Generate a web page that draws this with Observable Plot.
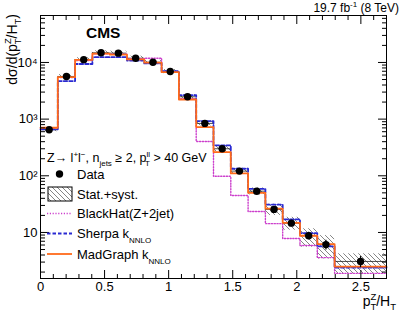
<!DOCTYPE html>
<html><head><meta charset="utf-8">
<script src="https://cdn.jsdelivr.net/npm/d3@7"></script>
<script src="https://cdn.jsdelivr.net/npm/@observablehq/plot@0.6"></script>
<style>
html,body{margin:0;padding:0;background:#fff;}
#chart svg{display:block;font-family:"Liberation Sans",Arial,Helvetica,sans-serif;background:#fff;}
</style></head><body><div id="chart"></div>
<script>
// ---- data ----
const binEdges = [0, 0.135, 0.27, 0.405, 0.54, 0.675, 0.81, 0.945, 1.08, 1.215, 1.35, 1.485, 1.62, 1.755, 1.89, 2.025, 2.16, 2.295, 2.7];
const dataValues = [650, 5660, 11200, 14800, 14600, 11900, 10100, 6930, 2480, 840, 300, 121, 53.5, 25.5, 14.6, 8.75, 6.1, 3.08];
const statRelErr = [0.01, 0.01, 0.01, 0.01, 0.01, 0.01, 0.01, 0.01, 0.015, 0.02, 0.03, 0.05, 0.07, 0.09, 0.12, 0.15, 0.2, 0.22];
const bandLow  = [600, 5200, 10300, 13600, 13400, 10900, 9300, 6350, 2280, 760, 265, 107, 46, 20, 11, 5.5, 3.4, 1.87];
const bandHigh = [700, 6100, 12100, 16000, 15800, 12900, 10900, 7500, 2700, 930, 340, 136, 61, 31.5, 18.5, 11.6, 8.8, 4.2];
const madgraph = [705, 5500, 11100, 14300, 13800, 11300, 9900, 6750, 2220, 725, 262, 110, 50, 26.4, 14.8, 8.75, 6.2, 2.5];
const sherpa   = [660, 4700, 9400, 12400, 12400, 10800, 9600, 7000, 2650, 923, 344, 133, 59, 31, 17, 9.7, 5.7, 2.4];
const blackhat = [700, 5400, 10800, 14200, 14000, 11600, 11900, 6900, 2300, 404, 98, 45, 23.4, 14.3, 7.8, 5.9, 3.6, 1.9];

const xMajorTicks = [0, 0.5, 1, 1.5, 2, 2.5];
const xTickLabels = ["0", "0.5", "1", "1.5", "2", "2.5"];
const xMinorTicks = [0.1, 0.2, 0.3, 0.4, 0.6, 0.7, 0.8, 0.9, 1.1, 1.2, 1.3, 1.4, 1.6, 1.7, 1.8, 1.9, 2.1, 2.2, 2.3, 2.4, 2.6];
const yMajorTicks = [10, 100, 1000, 10000];
const yTickLabels = ["10", "10\u00B2", "10\u00B3", "10\u2074"];
const yMinorTicks = [2, 3, 4, 5, 6, 7, 8, 9, 20, 30, 40, 50, 60, 70, 80, 90, 200, 300, 400, 500, 600, 700, 800, 900,
  2000, 3000, 4000, 5000, 6000, 7000, 8000, 9000, 20000, 30000, 40000, 50000, 60000];

const seriesColors = {madgraph: "#ff6a1a", sherpa: "#2a2ad2", blackhat: "#cc3fcc"};

// ---- tables built from the arrays ----
const rows = dataValues.map((v, i) => ({
  x1: binEdges[i], x2: binEdges[i + 1], xc: (binEdges[i] + binEdges[i + 1]) / 2,
  v, elo: v * (1 - statRelErr[i]), ehi: v * (1 + statRelErr[i]),
  blo: bandLow[i], bhi: bandHigh[i]
}));
const steps = (series) => binEdges.map((e, i) => ({x: e, y: series[Math.min(i, series.length - 1)]}));

const xLab = new Map(xMajorTicks.map((d, i) => [d, xTickLabels[i]]));
const yLab = new Map(yMajorTicks.map((d, i) => [d, yTickLabels[i]]));

const plot = Plot.plot({
  width: 407, height: 322,
  marginLeft: 40, marginRight: 21, marginTop: 15, marginBottom: 44,
  style: {fontFamily: '"Liberation Sans", Arial, Helvetica, sans-serif', fontSize: "13px", color: "black", background: "white"},
  x: {domain: [0, 2.7]},
  y: {type: "log", domain: [1.54, 67400]},
  marks: [
    Plot.rect(rows, {x1: "x1", x2: "x2", y1: "blo", y2: "bhi", fill: "url(#hatchPat)"}),
    Plot.ruleY(rows, {y: "v", x1: "x1", x2: "x2", stroke: "#222", strokeWidth: 0.8}),
    Plot.line(steps(blackhat), {x: "x", y: "y", curve: "step-after", stroke: seriesColors.blackhat, strokeWidth: 1.4, strokeDasharray: "1.2,1.6"}),
    Plot.line(steps(sherpa), {x: "x", y: "y", curve: "step-after", stroke: seriesColors.sherpa, strokeWidth: 1.8, strokeDasharray: "3.5,2"}),
    Plot.line(steps(madgraph), {x: "x", y: "y", curve: "step-after", stroke: seriesColors.madgraph, strokeWidth: 1.8}),
    Plot.ruleX(rows, {x: "xc", y1: "elo", y2: "ehi", stroke: "black", strokeWidth: 1.2}),
    Plot.dot(rows, {x: "xc", y: "v", r: 3.7, fill: "black", stroke: "none"}),
    // inward ticks, ROOT style
    Plot.axisX({anchor: "bottom", ticks: xMajorTicks, tickSize: -8, tickFormat: () => "", label: null}),
    Plot.axisX({anchor: "bottom", ticks: xMinorTicks, tickSize: -4, tickFormat: () => "", label: null}),
    Plot.axisX({anchor: "top", ticks: xMajorTicks, tickSize: -8, tickFormat: () => "", label: null}),
    Plot.axisX({anchor: "top", ticks: xMinorTicks, tickSize: -4, tickFormat: () => "", label: null}),
    Plot.axisX({anchor: "bottom", ticks: xMajorTicks, tickSize: 0, tickPadding: 3, tickFormat: d => xLab.get(d), fontSize: 13, label: null}),
    Plot.axisY({anchor: "left", ticks: yMajorTicks, tickSize: -9, tickFormat: () => "", label: null}),
    Plot.axisY({anchor: "left", ticks: yMinorTicks, tickSize: -5, tickFormat: () => "", label: null}),
    Plot.axisY({anchor: "right", ticks: yMajorTicks, tickSize: -9, tickFormat: () => "", label: null}),
    Plot.axisY({anchor: "right", ticks: yMinorTicks, tickSize: -5, tickFormat: () => "", label: null}),
    Plot.axisY({anchor: "left", ticks: yMajorTicks, tickSize: 0, tickPadding: 3, tickFormat: d => yLab.get(d), fontSize: 13, label: null}),
    Plot.frame({stroke: "black", strokeWidth: 1})
  ]
});
document.getElementById("chart").appendChild(plot);

// ---- decorations: hatch pattern, texts, legend ----
const svg = d3.select(plot);
const defs = svg.insert("defs", ":first-child");
const pat = defs.append("pattern").attr("id", "hatchPat").attr("patternUnits", "userSpaceOnUse")
  .attr("width", 5).attr("height", 5);
pat.append("path").attr("d", "M0,0L5,5M-1,4L1,6M4,-1L6,1").attr("stroke", "#666").attr("stroke-width", 0.8).attr("fill", "none");

const ann = svg.append("g").attr("fill", "black").attr("text-anchor", "start")
  .attr("font-family", '"Liberation Sans", Arial, Helvetica, sans-serif');

// top-right luminosity
const lumi = ann.append("text").attr("x", 399).attr("y", 12).attr("text-anchor", "end").attr("font-size", 12);
lumi.append("tspan").text("19.7 fb");
lumi.append("tspan").attr("font-size", 8).attr("dy", -5).text("-1");
lumi.append("tspan").attr("dy", 5).text(" (8 TeV)");

// CMS
ann.append("text").attr("x", 86).attr("y", 38).attr("font-size", 15.5).attr("font-weight", "bold").text("CMS");

// y axis title (rotated)
const yt = ann.append("text").attr("transform", "translate(17,14) rotate(-90)").attr("text-anchor", "end").attr("font-size", 14);
yt.append("tspan").text("d\u03C3/d(p");
yt.append("tspan").attr("font-size", 9.5).attr("dy", -6).text("Z");
yt.append("tspan").attr("font-size", 9.5).attr("dx", -6).attr("dy", 10).text("T");
yt.append("tspan").attr("dy", -4).text("/H");
yt.append("tspan").attr("font-size", 9.5).attr("dy", 4).text("T");
yt.append("tspan").attr("dy", -4).text(")");

// x axis title
const xt = ann.append("text").attr("x", 396).attr("y", 306).attr("text-anchor", "end").attr("font-size", 14);
xt.append("tspan").text("p");
xt.append("tspan").attr("font-size", 9.5).attr("dy", -6).text("Z");
xt.append("tspan").attr("font-size", 9.5).attr("dx", -6).attr("dy", 10).text("T");
xt.append("tspan").attr("dy", -4).text("/H");
xt.append("tspan").attr("font-size", 9.5).attr("dy", 4).text("T");

// legend header
const hdr = ann.append("text").attr("x", 47).attr("y", 161.5).attr("font-size", 12.5);
hdr.append("tspan").text("Z\u2192 l");
hdr.append("tspan").attr("font-size", 8).attr("dy", -5).text("+");
hdr.append("tspan").attr("dy", 5).text("l");
hdr.append("tspan").attr("font-size", 8).attr("dy", -5).text("\u2212");
hdr.append("tspan").attr("dy", 5).text(", n");
hdr.append("tspan").attr("font-size", 8).attr("dy", 4).text("jets");
hdr.append("tspan").attr("dy", -4).text(" \u2265 2, p");
hdr.append("tspan").attr("font-size", 8).attr("dy", -5).text("ll");
hdr.append("tspan").attr("font-size", 8).attr("dx", -5).attr("dy", 9).text("T");
hdr.append("tspan").attr("dy", -4).text(" > 40 GeV");

// legend entries
const legendLabels = ["Data", "Stat.+syst.", "BlackHat(Z+2jet)", "Sherpa k", "MadGraph k"];
const legendSubs = ["", "", "", "NNLO", "NNLO"];
const legendY = [174, 194, 213.5, 233.5, 254];
const lg = ann.append("g");
lg.append("circle").attr("cx", 59.5).attr("cy", legendY[0]).attr("r", 3.7).attr("fill", "black");
lg.append("rect").attr("x", 48).attr("y", legendY[1] - 7).attr("width", 24).attr("height", 14)
  .attr("fill", "url(#hatchPat)").attr("stroke", "black").attr("stroke-width", 1);
lg.append("line").attr("x1", 47).attr("x2", 72).attr("y1", legendY[2]).attr("y2", legendY[2])
  .attr("stroke", seriesColors.blackhat).attr("stroke-width", 1.4).attr("stroke-dasharray", "1.2,1.6");
lg.append("line").attr("x1", 47).attr("x2", 72).attr("y1", legendY[3]).attr("y2", legendY[3])
  .attr("stroke", seriesColors.sherpa).attr("stroke-width", 1.8).attr("stroke-dasharray", "3.5,2");
lg.append("line").attr("x1", 47).attr("x2", 72).attr("y1", legendY[4]).attr("y2", legendY[4])
  .attr("stroke", seriesColors.madgraph).attr("stroke-width", 1.8);
legendLabels.forEach((t, i) => {
  const tx = lg.append("text").attr("x", 77).attr("y", legendY[i] + 4.7).attr("font-size", 13);
  tx.append("tspan").text(t);
  if (legendSubs[i]) tx.append("tspan").attr("font-size", 8).attr("dy", 5).text(legendSubs[i]);
});
</script></body></html>
